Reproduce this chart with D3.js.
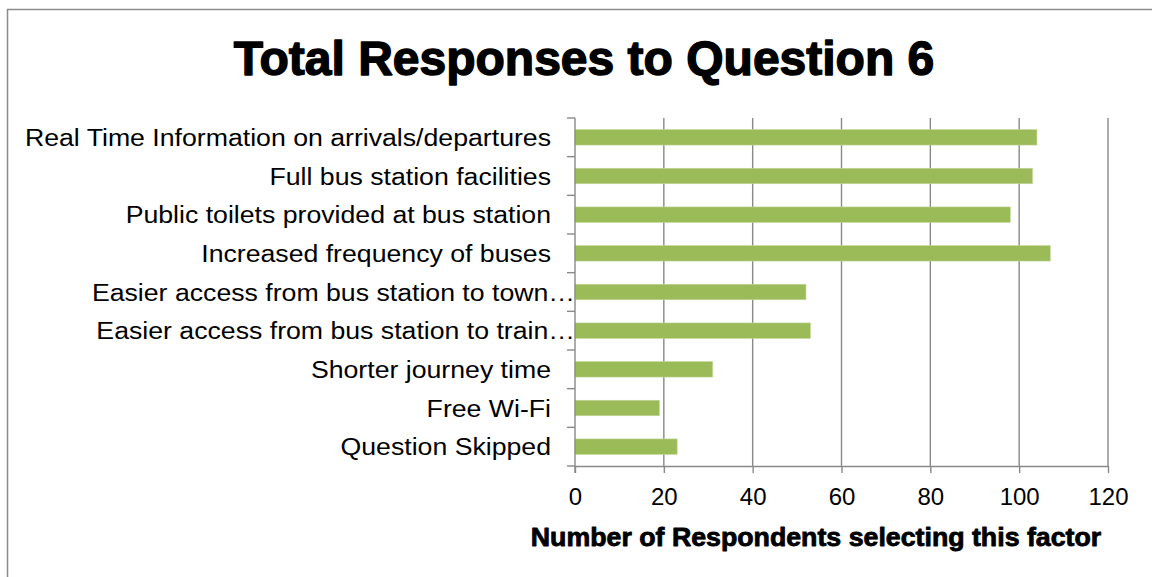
<!DOCTYPE html>
<html>
<head>
<meta charset="utf-8">
<script src="https://cdn.jsdelivr.net/npm/d3@7"></script>
<style>
  html, body { margin: 0; padding: 0; background: #fff; }
  svg { display: block; }
  text { font-family: "Liberation Sans", Arial, sans-serif; fill: #000; }
</style>
</head>
<body>
<svg id="chart" width="1152" height="577"></svg>
<script>
// Survey factors, listed top to bottom as shown on the chart
const categories = [
  "Real Time Information on arrivals/departures",
  "Full bus station facilities",
  "Public toilets provided at bus station",
  "Increased frequency of buses",
  "Easier access from bus station to town\u2026",
  "Easier access from bus station to train\u2026",
  "Shorter journey time",
  "Free Wi-Fi",
  "Question Skipped"
];
// Number of respondents choosing each factor
const responses = [104, 103, 98, 107, 52, 53, 31, 19, 23];
// Value axis ticks
const xTicks = [0, 20, 40, 60, 80, 100, 120];

const titleText = "Total Responses to Question 6";
const xAxisTitle = "Number of Respondents selecting this factor";

const svg = d3.select("#chart");
const gridColor = "#898989";
const labelStretch = 1.16;

// Outer chart frame
svg.append("rect")
  .attr("x", 7.5).attr("y", 9.5)
  .attr("width", 1200).attr("height", 600)
  .attr("fill", "none")
  .attr("stroke", "#8c8c8c")
  .attr("stroke-width", 1.5);

const plot = { left: 575, right: 1108, top: 118, bottom: 466 };

const x = d3.scaleLinear().domain([0, 120]).range([plot.left, plot.right]);
const y = d3.scaleBand()
  .domain(categories)
  .range([plot.top, plot.bottom])
  .paddingInner(0.6)
  .paddingOuter(0.3);

// Title
svg.append("text")
  .attr("x", 584).attr("y", 75)
  .attr("text-anchor", "middle")
  .style("font-size", "48px")
  .style("font-weight", "bold")
  .attr("stroke", "#000")
  .attr("stroke-width", 1.4)
  .attr("stroke-linejoin", "round")
  .text(titleText);

// Vertical gridlines
svg.append("g")
  .selectAll("line")
  .data(xTicks.slice(1))
  .join("line")
  .attr("x1", d => x(d)).attr("x2", d => x(d))
  .attr("y1", plot.top).attr("y2", plot.bottom)
  .attr("stroke", gridColor)
  .attr("stroke-width", 1.4);

// Bars
svg.append("g")
  .selectAll("rect")
  .data(categories)
  .join("rect")
  .attr("x", x(0))
  .attr("y", d => y(d))
  .attr("width", (d, i) => x(responses[i]) - x(0))
  .attr("height", y.bandwidth())
  .attr("fill", "#9bbb59")
  .attr("stroke", "#c3d69b")
  .attr("stroke-width", 0.6);

// Bottom value axis
const xAxis = d3.axisBottom(x)
  .tickValues(xTicks)
  .tickSizeInner(7)
  .tickSizeOuter(0)
  .tickPadding(15)
  .tickFormat(d3.format("d"));

const gx = svg.append("g")
  .attr("transform", `translate(0,${plot.bottom})`)
  .call(xAxis);
gx.select(".domain").attr("stroke", gridColor).attr("stroke-width", 1.4);
gx.selectAll(".tick line").attr("stroke", gridColor).attr("stroke-width", 1.4);
gx.selectAll(".tick text")
  .style("font-size", "24px")
  .style("font-family", "'Liberation Sans', Arial, sans-serif")
  .attr("fill", "#000");

// Left category axis: boundaries between bands get tick marks
const boundaries = d3.range(categories.length + 1)
  .map(i => plot.top + (plot.bottom - plot.top) * i / categories.length);

svg.append("line")
  .attr("x1", plot.left).attr("x2", plot.left)
  .attr("y1", plot.top).attr("y2", plot.bottom + 7)
  .attr("stroke", gridColor).attr("stroke-width", 1.4);

svg.append("g")
  .selectAll("line")
  .data(boundaries)
  .join("line")
  .attr("x1", plot.left - 8).attr("x2", plot.left)
  .attr("y1", d => d).attr("y2", d => d)
  .attr("stroke", gridColor).attr("stroke-width", 1.4);

// Category labels (truncated ones spill to the axis line)
svg.append("g")
  .selectAll("text")
  .data(categories)
  .join("text")
  .attr("transform", d => {
    const ax = d.endsWith("\u2026") ? plot.left : 551;
    const ay = y(d) + y.bandwidth() / 2 + 8.5;
    return `translate(${ax},${ay}) scale(${labelStretch},1)`;
  })
  .attr("text-anchor", "end")
  .style("font-size", "23px")
  .text(d => d);

// Value axis title
svg.append("text")
  .attr("transform", "translate(816,546) scale(1.07,1)")
  .attr("text-anchor", "middle")
  .style("font-size", "25px")
  .style("font-weight", "bold")
  .attr("stroke", "#000")
  .attr("stroke-width", 0.8)
  .attr("stroke-linejoin", "round")
  .text(xAxisTitle);
</script>
</body>
</html>
